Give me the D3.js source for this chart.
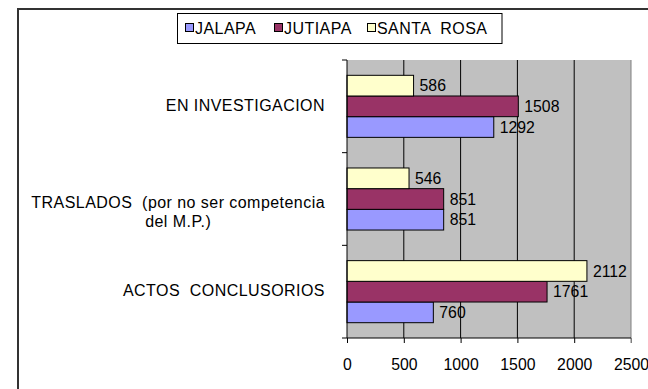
<!DOCTYPE html>
<html>
<head>
<meta charset="utf-8">
<script src="https://cdn.jsdelivr.net/npm/d3@7/dist/d3.min.js"></script>
<style>
  html, body { margin: 0; padding: 0; background: #fff; }
  svg { display: block; }
  text { font-family: "Liberation Sans", Arial, sans-serif; fill: #000; }
</style>
</head>
<body>
<svg id="chart" width="648" height="389"></svg>
<script>
// Categories, listed top to bottom as they appear on the vertical axis
const categories = ["EN INVESTIGACION", "TRASLADOS  (por no ser competencia del M.P.)", "ACTOS  CONCLUSORIOS"];
// Category labels split into lines
const categoryLines = [["EN INVESTIGACION"], ["TRASLADOS  (por no ser competencia", "del M.P.)"], ["ACTOS  CONCLUSORIOS"]];

// Series (legend order) and their values per category
const seriesNames = ["JALAPA", "JUTIAPA", "SANTA  ROSA"];
const seriesColors = ["#9999FF", "#993366", "#FFFFCC"];
const jalapa    = [1292, 851, 760];
const jutiapa   = [1508, 851, 1761];
const santaRosa = [586, 546, 2112];
const seriesValues = [jalapa, jutiapa, santaRosa];

// Axis ticks
const xTicks = [0, 500, 1000, 1500, 2000, 2500];

const svg = d3.select("#chart");
const plot = { left: 347, right: 631, top: 60, bottom: 338 };
const labelFont = "16px";
const labelSpacing = "0.45px";

// Outer chart frame
svg.append("rect")
  .attr("x", 18).attr("y", 9)
  .attr("width", 700).attr("height", 500)
  .attr("fill", "none").attr("stroke", "#333").attr("stroke-width", 2);

const x = d3.scaleLinear().domain([0, 2500]).range([plot.left, plot.right]);
const y0 = d3.scaleBand().domain(categories).range([plot.top, plot.bottom]).paddingInner(0).paddingOuter(0);
// Within each category the last series sits on top
const stackOrder = [2, 1, 0];
const y1 = d3.scaleBand().domain(stackOrder).range([0, y0.bandwidth()]).paddingInner(0).paddingOuter(0.74);

// Plot background
svg.append("rect")
  .attr("x", plot.left).attr("y", plot.top)
  .attr("width", plot.right - plot.left).attr("height", plot.bottom - plot.top)
  .attr("fill", "#C0C0C0");

// Vertical gridlines
svg.append("g").selectAll("line")
  .data(xTicks.filter(t => t > 0 && t < 2500))
  .join("line")
  .attr("x1", d => x(d)).attr("x2", d => x(d))
  .attr("y1", plot.top).attr("y2", plot.bottom)
  .attr("stroke", "#000").attr("stroke-width", 1);

// Right edge of plot area
svg.append("line")
  .attr("x1", x(2500)).attr("x2", x(2500))
  .attr("y1", plot.top).attr("y2", plot.bottom + 5)
  .attr("stroke", "#808080").attr("stroke-width", 1);

// Bars
const groups = svg.append("g").selectAll("g")
  .data(categories)
  .join("g")
  .attr("transform", c => `translate(0,${y0(c)})`);

groups.each(function(c, ci) {
  const g = d3.select(this);
  seriesValues.forEach((vals, si) => {
    const v = vals[ci];
    g.append("rect")
      .attr("x", x(0))
      .attr("y", y1(si))
      .attr("width", x(v) - x(0))
      .attr("height", y1.bandwidth())
      .attr("fill", seriesColors[si])
      .attr("stroke", "#000").attr("stroke-width", 1);
    g.append("text")
      .attr("x", x(v) + 6)
      .attr("y", y1(si) + y1.bandwidth() / 2)
      .attr("dy", "0.36em")
      .attr("font-size", "15.8px")
      .text(v);
  });
});

// Bottom axis
const xAxis = d3.axisBottom(x).tickValues(xTicks).tickSize(5).tickPadding(16).tickFormat(d3.format("d"));
const gx = svg.append("g").attr("transform", `translate(0,${plot.bottom})`).call(xAxis);
gx.select(".domain").attr("stroke", "#000").attr("d", `M${plot.left},0H${plot.right}`);
gx.selectAll(".tick line").attr("stroke", (d) => d === 2500 ? "#808080" : "#000");
gx.selectAll(".tick text").attr("font-size", "15.8px").attr("font-family", "Liberation Sans, Arial, sans-serif").attr("fill", "#000");

// Left axis line with category separator ticks
svg.append("line")
  .attr("x1", plot.left).attr("x2", plot.left)
  .attr("y1", plot.top).attr("y2", plot.bottom)
  .attr("stroke", "#000");
const boundaries = categories.map(c => y0(c)).concat([plot.bottom]);
svg.append("g").selectAll("line")
  .data(boundaries)
  .join("line")
  .attr("x1", plot.left - 5).attr("x2", plot.left)
  .attr("y1", d => d).attr("y2", d => d)
  .attr("stroke", "#000");

// Category labels: block right-aligned, lines centred within the block
categories.forEach((c, ci) => {
  const lines = categoryLines[ci];
  const cy = y0(c) + y0.bandwidth() / 2;
  const lineH = 18.5;
  const startY = lines.length > 1 ? cy + 3.5 : cy - 1;
  const widths = lines.map(l => {
    const t = svg.append("text")
      .attr("font-size", labelFont)
      .style("letter-spacing", labelSpacing)
      .style("white-space", "pre")
      .text(l);
    const w = t.node().getComputedTextLength();
    t.remove();
    return w;
  });
  const blockW = d3.max(widths);
  const rightX = 325;
  const centerX = rightX - blockW / 2;
  lines.forEach((l, li) => {
    svg.append("text")
      .attr("x", centerX)
      .attr("y", startY + li * lineH)
      .attr("dy", "0.36em")
      .attr("text-anchor", "middle")
      .attr("font-size", labelFont)
      .style("letter-spacing", labelSpacing)
      .style("white-space", "pre")
      .text(l);
  });
});

// Legend
const legend = svg.append("g");
legend.append("rect")
  .attr("x", 177.5).attr("y", 13.5)
  .attr("width", 324.5).attr("height", 30)
  .attr("fill", "#fff").attr("stroke", "#000").attr("stroke-width", 1);
const legendX = [185, 274, 367];
seriesNames.forEach((name, i) => {
  legend.append("rect")
    .attr("x", legendX[i] + 0.5).attr("y", 23.5)
    .attr("width", 8).attr("height", 8)
    .attr("fill", seriesColors[i]).attr("stroke", "#000").attr("stroke-width", 1);
  legend.append("text")
    .attr("x", legendX[i] + 10)
    .attr("y", 28)
    .attr("dy", "0.36em")
    .attr("font-size", labelFont)
    .style("letter-spacing", labelSpacing)
    .style("white-space", "pre")
    .text(name);
});
</script>
</body>
</html>
